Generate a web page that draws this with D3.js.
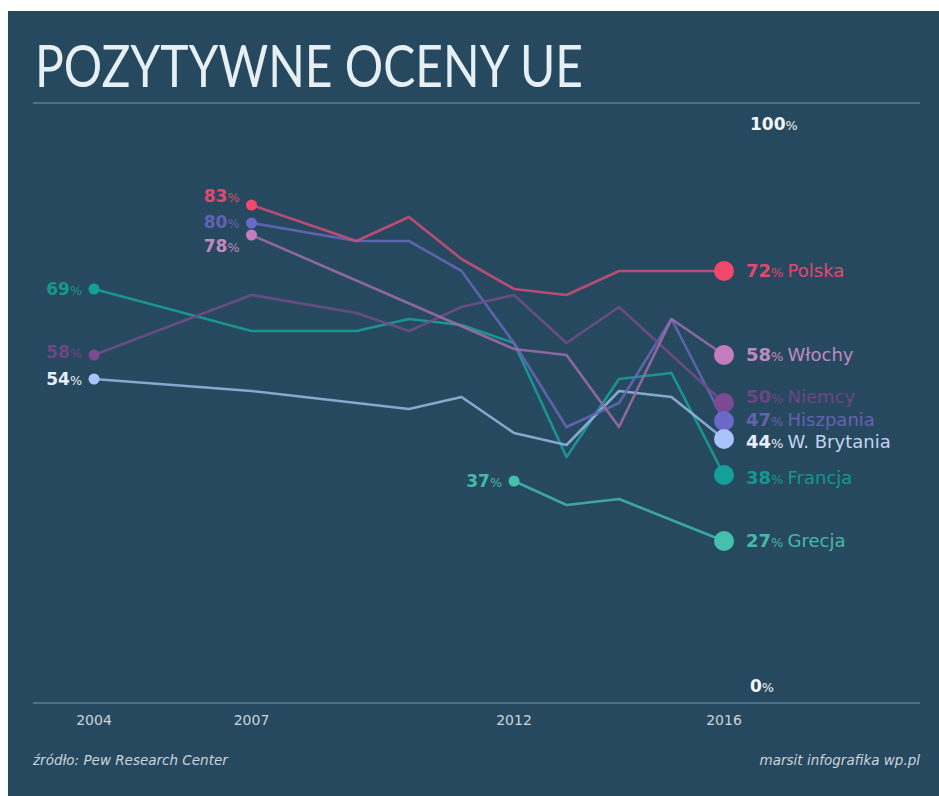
<!DOCTYPE html>
<html>
<head>
<meta charset="utf-8">
<script src="https://cdn.jsdelivr.net/npm/d3@7"></script>
<style>
  body { margin: 0; background: #fff; }
  svg { display: block; }
</style>
</head>
<body>
<div id="chart"></div>
<script>
var years = [2004, 2007, 2009, 2010, 2011, 2012, 2013, 2014, 2015, 2016];

// null = brak badania w danym roku
var polska    = [null, 83, 77, 81, 74, 69, 68, 72, 72, 72];
var wlochy    = [null, 78, null, null, null, 59, 58, 46, 64, 58];
var niemcy    = [58, 68, 65, 62, 66, 68, 60, 66, 58, 50];
var hiszpania = [null, 80, 77, 77, 72, 60, 46, 50, 64, 47];
var brytania  = [54, 52, 50, 49, 51, 45, 43, 52, 51, 44];
var francja   = [69, 62, 62, 64, 63, 60, 41, 54, 55, 38];
var grecja    = [null, null, null, null, null, 37, 33, 34, null, 27];

var names = ["Polska", "Włochy", "Niemcy", "Hiszpania", "W. Brytania", "Francja", "Grecja"];
var tickYears = [2004, 2007, 2012, 2016];

// sdy / edy: przesunięcie etykiet początkowych / końcowych, żeby się nie nakładały
var series = [
  { name: names[0], values: polska,    line: "#c94e76", dot: "#f2496b", label: "#e0486e", num: "#e0486e", sdy: -9, edy: 0 },
  { name: names[1], values: wlochy,    line: "#9a6aa6", dot: "#c57cbe", label: "#c08ac0", num: "#c08ac0", sdy: 11, edy: 0 },
  { name: names[2], values: niemcy,    line: "#6e4c86", dot: "#7b4a92", label: "#6c4585", num: "#6c4585", sdy: -3, edy: -6 },
  { name: names[3], values: hiszpania, line: "#6366b4", dot: "#6b68c8", label: "#6462b0", num: "#6462b0", sdy: -1, edy: -1 },
  { name: names[4], values: brytania,  line: "#90b2dc", dot: "#a9c4fa", label: "#c3d4ee", num: "#e6eef8", sdy: 0, edy: 3 },
  { name: names[5], values: francja,   line: "#1b9c97", dot: "#12a19a", label: "#139890", num: "#139890", sdy: 0, edy: 3 },
  { name: names[6], values: grecja,    line: "#3fb1a6", dot: "#45c0ad", label: "#44b9a8", num: "#44b9a8", sdy: 0, edy: 0 }
];

var W = 939, H = 796;

var svg = d3.select("#chart")
  .append("svg")
  .attr("width", W)
  .attr("height", H)
  .style("font-family", "'DejaVu Sans', sans-serif");

// panel
svg.append("rect")
  .attr("x", 8).attr("y", 11)
  .attr("width", W - 8).attr("height", H - 11)
  .attr("fill", "#27495f");

var x = d3.scaleLinear().domain([2004, 2016]).range([94, 724]);
var y = d3.scaleLinear().domain([0, 100]).range([703, 103]);

// title
svg.append("text")
  .attr("x", 35).attr("y", 87)
  .attr("fill", "#e6eff4")
  .attr("font-family", "Lato, sans-serif")
  .attr("font-size", 58)
  .attr("textLength", 548)
  .attr("lengthAdjust", "spacingAndGlyphs")
  .text("POZYTYWNE OCENY UE");

// linie 100% i 0%
[100, 0].forEach(function(v) {
  svg.append("line")
    .attr("x1", 33).attr("x2", 920)
    .attr("y1", y(v)).attr("y2", y(v))
    .attr("stroke", "#4e6f84")
    .attr("stroke-width", 2);
});

function pctLabel(g, xPos, yPos, value, fs, colNum, anchor) {
  var t = g.append("text")
    .attr("x", xPos).attr("y", yPos)
    .attr("text-anchor", anchor || "start")
    .attr("fill", colNum)
    .attr("font-size", fs)
    .attr("font-weight", "bold");
  t.append("tspan").text(value);
  t.append("tspan").attr("font-size", fs * 0.75).attr("font-weight", "normal").text("%");
  return t;
}

pctLabel(svg, 750, y(100) + 27, "100", 17, "#f2f6f8");
pctLabel(svg, 750, y(0) - 11, "0", 17, "#f2f6f8");

// lata
svg.append("g")
  .selectAll("text")
  .data(tickYears)
  .enter().append("text")
  .attr("x", function(d) { return x(d); })
  .attr("y", 725)
  .attr("text-anchor", "middle")
  .attr("fill", "#c9d4dc")
  .attr("font-size", 14)
  .text(function(d) { return d; });

// stopka
svg.append("text")
  .attr("x", 33).attr("y", 765)
  .attr("fill", "#c9d4dc")
  .attr("font-size", 13.5)
  .attr("font-style", "italic")
  .text("źródło: Pew Research Center");

svg.append("text")
  .attr("x", 920).attr("y", 765)
  .attr("text-anchor", "end")
  .attr("fill", "#c9d4dc")
  .attr("font-size", 13.5)
  .attr("font-style", "italic")
  .text("marsit infografika wp.pl");

var line = d3.line()
  .x(function(d) { return x(d.year); })
  .y(function(d) { return y(d.v); });

function points(s) {
  return years.map(function(yr, i) { return { year: yr, v: s.values[i] }; })
              .filter(function(d) { return d.v != null; });
}

// linie (Polska rysowana na końcu, na wierzchu)
var lines = svg.append("g");
series.slice().reverse().forEach(function(s) {
  lines.append("path")
    .datum(points(s))
    .attr("fill", "none")
    .attr("stroke", s.line)
    .attr("stroke-width", 2.6)
    .attr("stroke-linejoin", "round")
    .attr("opacity", 0.9)
    .attr("d", line);
});

// punkty początkowe + etykiety
var starts = svg.append("g");
series.forEach(function(s) {
  var p = points(s)[0];
  starts.append("circle")
    .attr("cx", x(p.year)).attr("cy", y(p.v))
    .attr("r", 5.5)
    .attr("fill", s.dot);
  pctLabel(starts, x(p.year) - 12, y(p.v) + 6 + s.sdy, p.v, 17, s.num, "end");
});

// punkty końcowe + etykiety
var ends = svg.append("g");
series.forEach(function(s) {
  var pts = points(s);
  var p = pts[pts.length - 1];
  ends.append("circle")
    .attr("cx", x(p.year)).attr("cy", y(p.v))
    .attr("r", 10)
    .attr("fill", s.dot);
  var t = ends.append("text")
    .attr("x", x(p.year) + 22).attr("y", y(p.v) + 6 + s.edy)
    .attr("font-size", 18);
  t.append("tspan").attr("font-weight", "bold").attr("fill", s.num).text(p.v);
  t.append("tspan").attr("font-size", 13).attr("fill", s.num).text("% ");
  t.append("tspan").attr("fill", s.label).text(s.name);
});
</script>
</body>
</html>
